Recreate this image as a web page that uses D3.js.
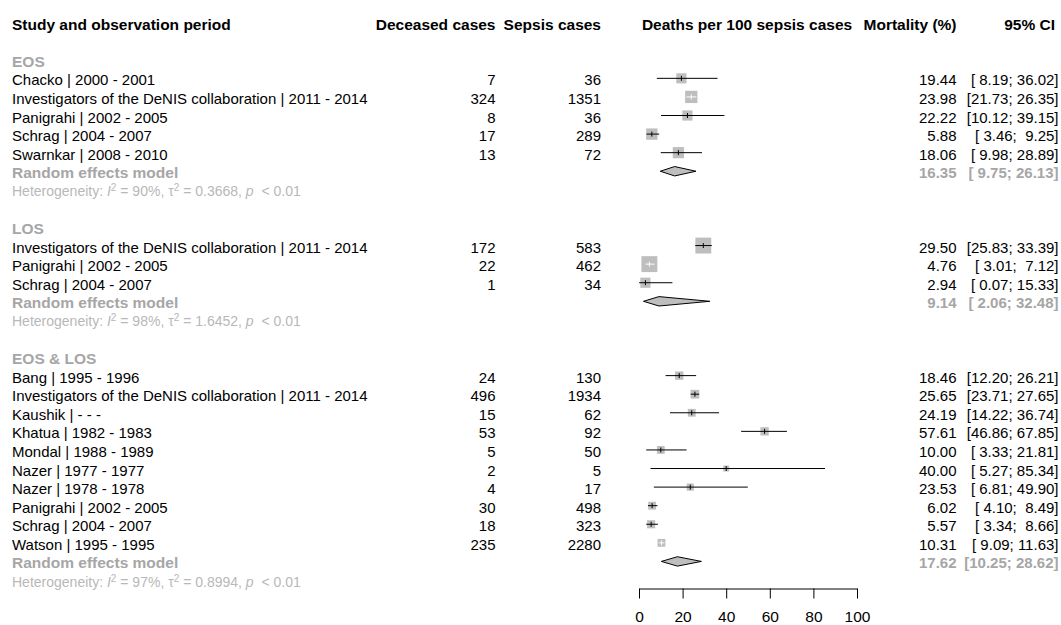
<!DOCTYPE html>
<html>
<head>
<meta charset="utf-8">
<script src="https://cdn.jsdelivr.net/npm/d3@7"></script>
<style>
  html, body { margin: 0; padding: 0; background: #fff; }
  svg { display: block; font-family: "Liberation Sans", Arial, sans-serif; }
  text { white-space: pre; }
</style>
</head>
<body>
<svg id="chart" width="1061" height="625"></svg>
<script>
// ---------------- data ----------------
const groups = ["EOS", "LOS", "EOS & LOS"];

const studyGroup = [0,0,0,0,0, 1,1,1, 2,2,2,2,2,2,2,2,2,2];
const studyLabel = [
  "Chacko | 2000 - 2001",
  "Investigators of the DeNIS collaboration | 2011 - 2014",
  "Panigrahi | 2002 - 2005",
  "Schrag | 2004 - 2007",
  "Swarnkar | 2008 - 2010",
  "Investigators of the DeNIS collaboration | 2011 - 2014",
  "Panigrahi | 2002 - 2005",
  "Schrag | 2004 - 2007",
  "Bang | 1995 - 1996",
  "Investigators of the DeNIS collaboration | 2011 - 2014",
  "Kaushik | - - -",
  "Khatua | 1982 - 1983",
  "Mondal | 1988 - 1989",
  "Nazer | 1977 - 1977",
  "Nazer | 1978 - 1978",
  "Panigrahi | 2002 - 2005",
  "Schrag | 2004 - 2007",
  "Watson | 1995 - 1995"
];
const deceased  = [7, 324, 8, 17, 13, 172, 22, 1, 24, 496, 15, 53, 5, 2, 4, 30, 18, 235];
const sepsis    = [36, 1351, 36, 289, 72, 583, 462, 34, 130, 1934, 62, 92, 50, 5, 17, 498, 323, 2280];
const mortality = [19.44, 23.98, 22.22, 5.88, 18.06, 29.50, 4.76, 2.94, 18.46, 25.65, 24.19, 57.61, 10.00, 40.00, 23.53, 6.02, 5.57, 10.31];
const ciLower   = [8.19, 21.73, 10.12, 3.46, 9.98, 25.83, 3.01, 0.07, 12.20, 23.71, 14.22, 46.86, 3.33, 5.27, 6.81, 4.10, 3.34, 9.09];
const ciUpper   = [36.02, 26.35, 39.15, 9.25, 28.89, 33.39, 7.12, 15.33, 26.21, 27.65, 36.74, 67.85, 21.81, 85.34, 49.90, 8.49, 8.66, 11.63];
// estimated random-effects weights (%) within subgroup
const weight    = [16.8, 24.7, 17.0, 21.0, 20.5, 41.5, 41.5, 17.0, 11.4, 12.4, 10.0, 11.4, 9.8, 5.8, 8.4, 10.0, 10.8, 10.0];

const summaryEst   = [16.35, 9.14, 17.62];
const summaryLower = [9.75, 2.06, 10.25];
const summaryUpper = [26.13, 32.48, 28.62];
const hetI2   = ["90%", "98%", "97%"];
const hetTau2 = ["0.3668", "1.6452", "0.8994"];
const hetP    = ["0.01", "0.01", "0.01"];

const axisTicks = [0, 20, 40, 60, 80, 100];
const headers = ["Study and observation period", "Deceased cases", "Sepsis cases",
                 "Deaths per 100 sepsis cases", "Mortality (%)", "95% CI"];

// ---------------- layout ----------------
const svg = d3.select("#chart");
const FS = 15, FSB = 15.5;
const x = d3.scaleLinear().domain([0, 100]).range([639, 857]);
const side = d3.scaleSqrt().domain([0, 100]).range([0, 24.7]);
const rowY = k => 22.6 + 18.58 * k;
const baseOff = 7.0;
const col = { label: 12, dec: 495.5, sep: 601, mort: 956.5, ci: 1058.5 };
const GRAY = "#a6a6a6", HET = "#b8b8b8", SQ = "#bebebe";

const fmt2 = d3.format(".2f");
const pad5 = v => fmt2(v).padStart(5, " ");
const ciText = (l, u) => "[" + pad5(l) + "; " + pad5(u) + "]";

function txt(g, xp, k, s, opts = {}) {
  return g.append("text")
    .attr("x", xp).attr("y", rowY(k) + baseOff)
    .attr("text-anchor", opts.anchor || "start")
    .attr("font-size", opts.size || FS)
    .attr("font-weight", opts.bold ? "bold" : "normal")
    .attr("fill", opts.color || "#000")
    .attr("xml:space", "preserve")
    .text(s);
}

const gText = svg.append("g");
const gPlot = svg.append("g");

// header row
txt(gText, col.label, 0, headers[0], { bold: true, size: FSB });
txt(gText, col.dec, 0, headers[1], { bold: true, anchor: "end", size: FSB });
txt(gText, col.sep, 0, headers[2], { bold: true, anchor: "end", size: FSB });
txt(gText, (x(0) + x(100)) / 2 - 1, 0, headers[3], { bold: true, anchor: "middle", size: FSB });
txt(gText, col.mort, 0, headers[4], { bold: true, anchor: "end", size: FSB });
txt(gText, col.ci - 3.5, 0, headers[5], { bold: true, anchor: "end", size: FSB });

let k = 2;
groups.forEach((grp, gi) => {
  txt(gText, col.label, k, grp, { bold: true, color: GRAY, size: FSB });
  k++;
  studyGroup.forEach((sg, i) => {
    if (sg !== gi) return;
    txt(gText, col.label, k, studyLabel[i]);
    txt(gText, col.dec, k, String(deceased[i]), { anchor: "end" });
    txt(gText, col.sep, k, String(sepsis[i]), { anchor: "end" });
    txt(gText, col.mort, k, fmt2(mortality[i]), { anchor: "end" });
    txt(gText, col.ci, k, ciText(ciLower[i], ciUpper[i]), { anchor: "end" });

    const cy = rowY(k), cx = x(mortality[i]), s = side(weight[i]);
    gPlot.append("rect")
      .attr("x", cx - s / 2).attr("y", cy - s / 2)
      .attr("width", s).attr("height", s)
      .attr("fill", SQ);
    const inside = x(ciLower[i]) >= cx - s / 2 && x(ciUpper[i]) <= cx + s / 2;
    const lc = inside ? "#fff" : "#000";
    gPlot.append("line")
      .attr("x1", x(ciLower[i])).attr("x2", x(ciUpper[i]))
      .attr("y1", cy).attr("y2", cy)
      .attr("stroke", lc).attr("stroke-width", 1);
    gPlot.append("line")
      .attr("x1", cx).attr("x2", cx)
      .attr("y1", cy - 2.5).attr("y2", cy + 2.5)
      .attr("stroke", lc).attr("stroke-width", 1);
    k++;
  });
  // random effects model
  txt(gText, col.label, k, "Random effects model", { bold: true, color: GRAY, size: FSB });
  txt(gText, col.mort, k, fmt2(summaryEst[gi]), { anchor: "end", bold: true, color: GRAY });
  txt(gText, col.ci, k, ciText(summaryLower[gi], summaryUpper[gi]), { anchor: "end", bold: true, color: GRAY });
  const dy = rowY(k), h = 4.7;
  gPlot.append("polygon")
    .attr("points", [
      [x(summaryLower[gi]), dy], [x(summaryEst[gi]), dy - h],
      [x(summaryUpper[gi]), dy], [x(summaryEst[gi]), dy + h]
    ].map(p => p.join(",")).join(" "))
    .attr("fill", SQ).attr("stroke", "#000").attr("stroke-width", 1);
  k++;
  // heterogeneity
  const t = gText.append("text")
    .attr("x", col.label).attr("y", rowY(k) + 6.6)
    .attr("font-size", 14).attr("fill", HET)
    .attr("xml:space", "preserve");
  t.append("tspan").text("Heterogeneity: ");
  t.append("tspan").attr("font-style", "italic").text("I");
  t.append("tspan").attr("font-size", 10).attr("dy", -5).text("2");
  t.append("tspan").attr("dy", 5).text(" = " + hetI2[gi] + ", ");
  t.append("tspan").text("τ");
  t.append("tspan").attr("font-size", 10).attr("dy", -5).text("2");
  t.append("tspan").attr("dy", 5).text(" = " + hetTau2[gi] + ", ");
  t.append("tspan").attr("font-style", "italic").text("p");
  t.append("tspan").text("  < " + hetP[gi]);
  k += 2;
});

// axis
const axis = d3.axisBottom(x).tickValues(axisTicks).tickSize(10).tickSizeOuter(0).tickPadding(12);
const ga = svg.append("g").attr("transform", "translate(0,588.5)").call(axis);
ga.select(".domain").attr("stroke", "#000");
ga.selectAll(".tick line").attr("stroke", "#000");
ga.selectAll(".tick text").attr("font-size", FSB).attr("fill", "#000")
  .attr("font-family", "'Liberation Sans', Arial, sans-serif");
</script>
</body>
</html>
